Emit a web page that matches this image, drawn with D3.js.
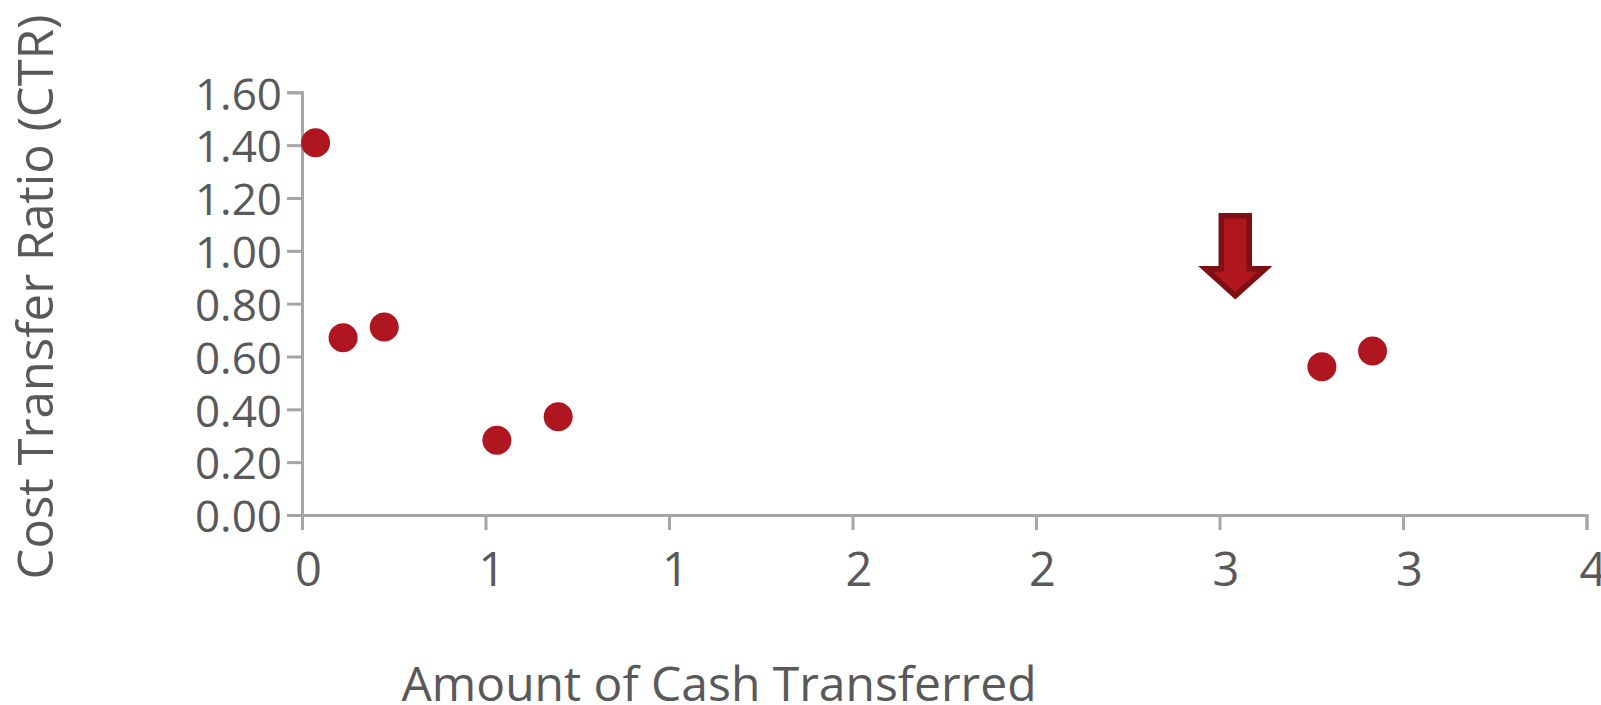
<!DOCTYPE html>
<html>
<head>
<meta charset="utf-8">
<script src="https://cdn.jsdelivr.net/npm/d3@7/dist/d3.min.js"></script>
<style>
  html, body { margin: 0; padding: 0; background: #fff; overflow: hidden; }
  svg { display: block; font-family: 'Open Sans', sans-serif; }
  .axis path, .axis line { stroke: #a6a6a6; stroke-width: 3; }
  .axis text { fill: #595959; font-family: 'Open Sans', sans-serif; }
  .axis-label { fill: #595959; font-size: 48px; }
</style>
</head>
<body>
<svg width="1601" height="705"></svg>
<script>
  // amount of cash transferred vs cost transfer ratio
  const cashAmount = [0.037, 0.112, 0.224, 0.531, 0.698, 2.779, 2.917];
  const ctrValues  = [1.409, 0.671, 0.712, 0.283, 0.372, 0.561, 0.621];

  const xTickValues = [0, 0.5, 1, 1.5, 2, 2.5, 3, 3.5];
  const xTickLabels = ['0', '1', '1', '2', '2', '3', '3', '4'];
  const yTickValues = [0, 0.2, 0.4, 0.6, 0.8, 1.0, 1.2, 1.4, 1.6];

  // arrow callout, tip position in data units
  const arrowTip = [2.543, 0.83];

  const margin = { top: 92.3, left: 302 };
  const width = 1284.5;
  const height = 422.7;

  const svg = d3.select('svg');
  const g = svg.append('g')
    .attr('transform', `translate(${margin.left},${margin.top})`);

  const x = d3.scaleLinear().domain([0, 3.5]).range([0, width]);
  const y = d3.scaleLinear().domain([0, 1.6]).range([height, 0]);

  const xAxis = d3.axisBottom(x)
    .tickValues(xTickValues)
    .tickFormat((d, i) => xTickLabels[i])
    .tickSize(15)
    .tickPadding(23);

  const yAxis = d3.axisLeft(y)
    .tickValues(yTickValues)
    .tickFormat(d3.format('.2f'))
    .tickSize(15)
    .tickPadding(5);

  g.append('g')
    .attr('class', 'axis')
    .call(yAxis)
    .attr('font-family', null)
    .call(a => a.selectAll('text').style('font-size', '44px').attr('dy', '0.38em'));

  g.append('g')
    .attr('class', 'axis')
    .attr('transform', `translate(0,${height})`)
    .call(xAxis)
    .attr('font-family', null)
    .call(a => a.selectAll('text').style('font-size', '47px').attr('dx', 6));

  g.selectAll('circle.dot')
    .data(cashAmount.map((v, i) => [v, ctrValues[i]]))
    .enter()
    .append('circle')
    .attr('class', 'dot')
    .attr('cx', d => x(d[0]))
    .attr('cy', d => y(d[1]))
    .attr('r', 14.5)
    .attr('fill', '#b0161f');

  // down arrow
  const ax = x(arrowTip[0]);
  const ay = y(arrowTip[1]);
  const shaftW = 14, headW = 30, headH = 27, totalH = 80;
  const arrowPath = [
    [ax - shaftW, ay - totalH],
    [ax + shaftW, ay - totalH],
    [ax + shaftW, ay - headH],
    [ax + headW, ay - headH],
    [ax, ay],
    [ax - headW, ay - headH],
    [ax - shaftW, ay - headH]
  ];
  g.append('path')
    .attr('d', d3.line()(arrowPath) + 'Z')
    .attr('fill', '#b0161e')
    .attr('stroke', '#7e1015')
    .attr('stroke-width', 5.5)
    .attr('stroke-linejoin', 'miter');

  svg.append('text')
    .attr('class', 'axis-label')
    .attr('x', 719)
    .attr('y', 701)
    .attr('text-anchor', 'middle')
    .text('Amount of Cash Transferred');

  svg.append('text')
    .attr('class', 'axis-label')
    .attr('transform', 'rotate(-90)')
    .attr('x', -297)
    .attr('y', 53)
    .attr('text-anchor', 'middle')
    .style('font-size', '49px')
    .text('Cost Transfer Ratio (CTR)');
</script>
</body>
</html>
